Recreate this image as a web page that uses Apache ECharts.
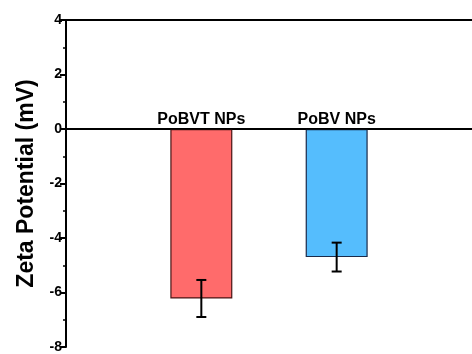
<!DOCTYPE html>
<html><head><meta charset="utf-8">
<script src="https://cdn.jsdelivr.net/npm/echarts@6/dist/echarts.min.js"></script>
<style>html,body{margin:0;padding:0;background:#fff}#c{width:472px;height:354px}</style>
</head><body><div id="c"></div>
<script>
const categories = ['', 'PoBVT NPs', 'PoBV NPs', ''];
const values = [null, -6.22, -4.70, null];
const errors = [null, 0.68, 0.53, null];
const barColors = ['#FF6B6B', '#FF6B6B', '#55BDFD', '#55BDFD'];
const barBorders = ['#4a1414', '#4a1414', '#1a2a4a', '#1a2a4a'];
const yTicks = [-8, -6, -4, -2, 0, 2, 4];

const chart = echarts.init(document.getElementById('c'));
const F = 'Liberation Sans';
chart.setOption({
  animation: false,
  grid: {left: 66, right: -4, top: 20, bottom: 4},
  xAxis: [{
    type: 'category', data: categories, boundaryGap: false,
    axisLine: {lineStyle: {color: '#000', width: 2}}, axisTick: {show: false}, axisLabel: {show: false}
  }, {
    type: 'category', data: categories, boundaryGap: false, position: 'top',
    axisLine: {lineStyle: {color: '#000', width: 2}}, axisTick: {show: false}, axisLabel: {show: false}
  }],
  yAxis: {
    type: 'value', min: -8, max: 4, interval: 2,
    name: 'Zeta Potential (mV)', nameLocation: 'middle', nameGap: 28,
    nameTextStyle: {fontFamily: F, fontWeight: 'bold', fontSize: 23, color: '#000'},
    axisLine: {show: true, onZero: false, lineStyle: {color: '#000', width: 2}},
    axisTick: {show: true, length: 6, lineStyle: {color: '#000', width: 2}},
    minorTick: {show: true, splitNumber: 2, length: 3, lineStyle: {color: '#000', width: 1.5}},
    axisLabel: {
      formatter: function (v) { return '{t|' + v + '}'; },
      rich: {t: {fontFamily: F, fontWeight: 'bold', fontSize: 14, color: '#000'}},
      margin: 4
    },
    splitLine: {show: false}
  },
  series: [{
    type: 'bar', barWidth: 62,
    data: values.map((v, i) => ({value: v, itemStyle: {color: barColors[i], borderColor: barBorders[i], borderWidth: 1.2}})),
    markLine: {silent: true, symbol: 'none', label: {show: false},
      lineStyle: {color: '#000', width: 1.5, type: 'solid'}, data: [{yAxis: 0}]}
  }, {
    type: 'custom',
    data: values.map((v, i) => [i, v, errors[i]]),
    renderItem: function (params, api) {
      const v = api.value(1), e = api.value(2);
      if (v == null || isNaN(v)) return;
      const x = api.value(0);
      const top = api.coord([x, v + e]);
      const bot = api.coord([x, v - e]);
      const hw = 5;
      const st = {stroke: '#000', lineWidth: 2};
      return {type: 'group', children: [
        {type: 'line', shape: {x1: top[0], y1: top[1], x2: bot[0], y2: bot[1]}, style: st},
        {type: 'line', shape: {x1: top[0] - hw, y1: top[1], x2: top[0] + hw, y2: top[1]}, style: st},
        {type: 'line', shape: {x1: bot[0] - hw, y1: bot[1], x2: bot[0] + hw, y2: bot[1]}, style: st}
      ]};
    },
    z: 5
  }, {
    type: 'scatter', symbolSize: 0, itemStyle: {opacity: 1},
    data: categories.map((c, i) => c ? {value: [i, 0], label: {formatter: c}} : null).filter(d => d),
    label: {show: true, position: 'top', distance: 1, fontFamily: F, fontWeight: 'bold', fontSize: 16, color: '#000', opacity: 1}
  }]
});
</script></body></html>
